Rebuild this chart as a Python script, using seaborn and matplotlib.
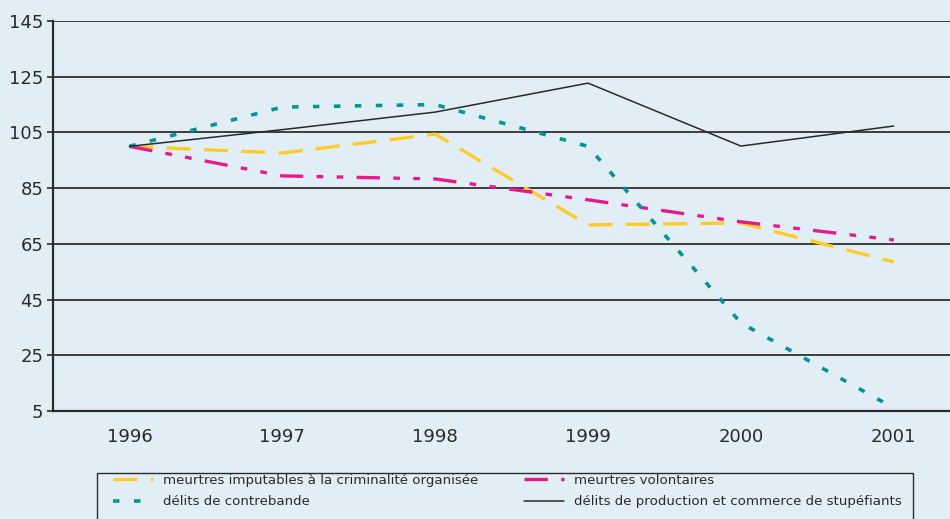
import matplotlib.pyplot as plt
import numpy as np
import pandas as pd
import seaborn as sns
from matplotlib.patches import Rectangle
from matplotlib.lines import Line2D

years = [1996, 1997, 1998, 1999, 2000, 2001]
meurtres_org = [100, 97.6, 104.4, 71.8, 72.5, 58.5]
meurtres_vol = [100, 89.4, 88.3, 80.8, 72.9, 66.4]
contrebande = [100, 114.1, 115.0, 100.0, 36.6, 6.1]
stupefiants = [100, 106.0, 112.3, 122.7, 100.1, 107.3]

labels = [
    "meurtres imputables à la criminalité organisée",
    "meurtres volontaires",
    "délits de contrebande",
    "délits de production et commerce de stupéfiants",
]
yticks = [5, 25, 45, 65, 85, 105, 125, 145]

bg = "#E2EEF6"
yellow = "#FFCB25"
magenta = "#E8198B"
teal = "#00959A"
ink = "#2A2A2A"

sns.set_style("white")
plt.rcParams["font.family"] = ["DejaVu Sans"]

fig = plt.figure(figsize=(9.5, 5.19), dpi=100, facecolor=bg)
ax = fig.add_axes([53 / 950, 1 - 411 / 519, 1 - 53 / 950 + 0.01, (411 - 21) / 519])
ax.set_facecolor(bg)

df = pd.DataFrame({"year": years, "org": meurtres_org, "vol": meurtres_vol,
                   "contre": contrebande, "stup": stupefiants})

styles = {
    "org": dict(color=yellow, lw=2.4, dashes=(7.2, 4.0)),
    "vol": dict(color=magenta, lw=2.4, dashes=(7.0, 4.0, 2.0, 4.0, 2.0, 4.0)),
    "contre": dict(color=teal, lw=2.6, dashes=(1.8, 4.0)),
    "stup": dict(color=ink, lw=1.1, dashes=()),
}
for key in ["org", "vol", "contre", "stup"]:
    st = styles[key]
    sns.lineplot(data=df, x="year", y=key, ax=ax, color=st["color"], lw=st["lw"])
    if st["dashes"]:
        ax.lines[-1].set_dashes(st["dashes"])
    ax.lines[-1].set_dash_capstyle("butt")

ax.set_xlim(1995.5, 1996 + (950 - 129) / 151.2)
ax.set_ylim(5, 145)
ax.set_yticks(yticks)
ax.set_yticklabels([str(v) for v in yticks], fontsize=13, color=ink)
ax.set_xticks(years)
ax.set_xticklabels([str(y) for y in years], fontsize=13, color=ink)
ax.set_xticks(np.arange(1995.5, 2001.0, 1.0), minor=True)
ax.tick_params(axis="x", which="major", length=0, pad=12)
ax.tick_params(axis="x", which="minor", length=4, width=1.2, color=ink, direction="out")
ax.tick_params(axis="y", length=4, width=1.2, color=ink, direction="out", pad=3, left=True)
ax.set_xlabel("")
ax.set_ylabel("")

ax.grid(False)
for v in yticks[1:]:
    ax.axhline(v, color="#3E3E3E", lw=1.4, zorder=0)

for s in ["top", "right"]:
    ax.spines[s].set_visible(False)
for s in ["left", "bottom"]:
    ax.spines[s].set_color(ink)
    ax.spines[s].set_linewidth(1.6)

# legend frame
fig.patches.append(Rectangle((97 / 950, -0.05), (913 - 97) / 950, 0.05 + (519 - 473) / 519,
                             transform=fig.transFigure, fill=False, ec=ink, lw=1.0))

def handle(key):
    st = styles[key]
    h = Line2D([], [], color=st["color"], lw=st["lw"])
    if st["dashes"]:
        h.set_dashes(st["dashes"])
    h.set_dash_capstyle("butt")
    return h

leg_kw = dict(frameon=False, fontsize=9.6, handlelength=3.0, handletextpad=0.75,
              labelspacing=0.62, borderpad=0, borderaxespad=0, loc="upper left")
leg1 = fig.legend([handle("org"), handle("contre")], [labels[0], labels[2]],
                  bbox_to_anchor=(113 / 950, 1 - 474 / 519), **leg_kw)
leg2 = fig.legend([handle("vol"), handle("stup")], [labels[1], labels[3]],
                  bbox_to_anchor=(524 / 950, 1 - 474 / 519), **leg_kw)
for leg in (leg1, leg2):
    for t in leg.get_texts():
        t.set_color(ink)

fig.savefig("out.png", dpi=100, facecolor=bg)
